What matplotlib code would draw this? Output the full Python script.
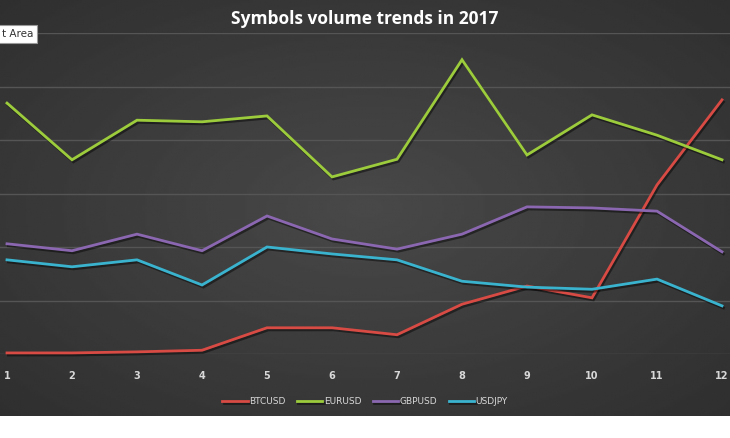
import numpy as np
import matplotlib
matplotlib.use("Agg")
import matplotlib.pyplot as plt
import matplotlib.patheffects as pe

months = list(range(1, 13))
tick_labels = [str(m) for m in months]
btcusd = [0.02, 0.02, 0.04, 0.07, 0.49, 0.49, 0.36, 0.93, 1.27, 1.05, 3.16, 4.75]
eurusd = [4.69, 3.63, 4.37, 4.34, 4.45, 3.31, 3.64, 5.50, 3.72, 4.47, 4.09, 3.63]
gbpusd = [2.06, 1.93, 2.24, 1.93, 2.58, 2.15, 1.96, 2.24, 2.75, 2.73, 2.67, 1.91]
usdjpy = [1.76, 1.63, 1.76, 1.29, 2.00, 1.87, 1.76, 1.36, 1.25, 1.21, 1.40, 0.90]

series = [("BTCUSD", btcusd, "#d84a44"),
          ("EURUSD", eurusd, "#9ccc3c"),
          ("GBPUSD", gbpusd, "#8a67b0"),
          ("USDJPY", usdjpy, "#3ab3cf")]

W, H = 730, 438
fig = plt.figure(figsize=(W / 100, H / 100), dpi=100, facecolor="white")

# dark radial background, from the top down to pixel 416
bg = fig.add_axes([0, 22 / H, 1, 416 / H])
yy, xx = np.mgrid[-1:1:200j, -1:1:300j]
r = np.sqrt(xx ** 2 + yy ** 2) / np.sqrt(2)
bg.imshow(0.285 - 0.10 * r, cmap="gray", vmin=0, vmax=1, aspect="auto",
          extent=[0, 1, 0, 1], interpolation="bilinear")
bg.set_axis_off()

# plot area: y 0 at pixel 354, 6 at pixel 33; x 1 at pixel 7, 12 at 722
ax = fig.add_axes([0, (H - 354) / H, 1, (354 - 33) / H])
ax.patch.set_alpha(0)
ax.set_xlim(1 - 7 / 65, 12 + 8 / 65)
ax.set_ylim(0, 6)
ax.set_yticks(range(0, 7))
ax.grid(axis="y", color="#555555", linewidth=1.0)
ax.set_axisbelow(True)
for s in ax.spines.values():
    s.set_visible(False)
ax.tick_params(axis="y", left=False, labelleft=False)
ax.set_xticks(months)
ax.set_xticklabels(tick_labels)
ax.tick_params(axis="x", bottom=False, colors="#d8d8d8", labelsize=7, pad=9)
for lbl in ax.get_xticklabels():
    lbl.set_fontweight("bold")

shadow = [pe.SimpleLineShadow(offset=(1, -1.5), shadow_color="black", alpha=0.45),
          pe.Normal()]
for name, vals, col in series:
    ax.plot(months, vals, color=col, linewidth=2.0, label=name,
            path_effects=shadow, solid_joinstyle="miter", clip_on=False)

leg = fig.legend(loc="center", bbox_to_anchor=(0.5, (H - 402) / H), ncol=4,
                 frameon=False, fontsize=6.5, handlelength=2.8, handletextpad=0.15,
                 columnspacing=1.3)
for t in leg.get_texts():
    t.set_color("#d8d8d8")

fig.text(0.5, (H - 19) / H, "Symbols volume trends in 2017", ha="center",
         va="center", color="white", fontsize=12.5, fontweight="bold",
         family="Open Sans")

# leftover hover tooltip from the screenshot (its left part is off-screen)
fig.text(2 / W, (H - 34) / H, "t Area", ha="left", va="center",
         fontsize=7.5, color="#333333",
         bbox=dict(boxstyle="square,pad=0.35", fc="white", ec="#999999", lw=0.8))

fig.savefig("out.png", dpi=100, facecolor=fig.get_facecolor())
